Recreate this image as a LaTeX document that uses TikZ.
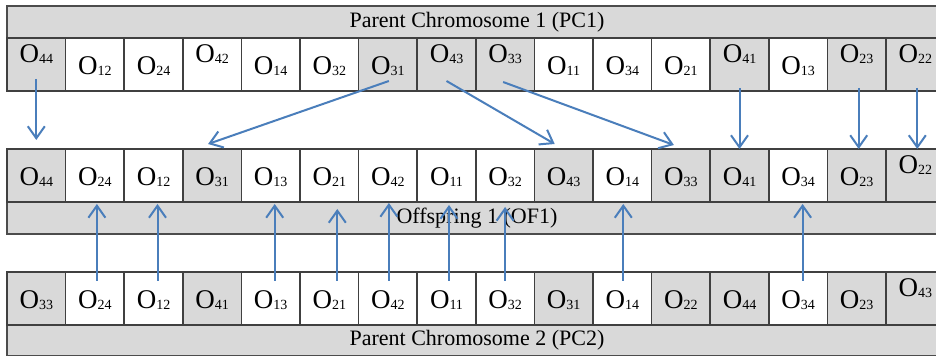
\documentclass[tikz,border=0pt]{standalone}
\usepackage{fontspec}
\setmainfont{Liberation Serif}
\usetikzlibrary{arrows.meta}
\definecolor{cellgrey}{HTML}{D9D9D9}
\definecolor{linkblue}{HTML}{4A7EBB}

\begin{document}
\begin{tikzpicture}[x=0.5pt,y=-0.5pt,
    cell/.style={draw=black!75, line width=0.75pt, minimum width=29.3pt, minimum height=26.5pt,
        inner sep=0pt, outer sep=0pt, anchor=north west},
    bar/.style={draw=black!70, fill=cellgrey, line width=0.75pt, minimum width=470pt, minimum height=16pt,
        inner sep=0pt, outer sep=0pt, anchor=north west, font=\fontsize{11}{13}\selectfont},
    link/.style={draw=linkblue, line width=1pt, -{Straight Barb[length=6pt,width=8.5pt]}}]
    % gene label: O with a small index, #2 moves it up or down
    \def\gn#1#2{\raisebox{#2}[0pt][0pt]{\fontsize{13.5}{15}\selectfont O\raisebox{-0.5pt}{\fontsize{7}{8}\selectfont#1}}}
    \def\lo{-5pt}\def\hi{1pt}
    \useasboundingbox (0,0) rectangle (936,356);
    \fill[white] (0,0) rectangle (936,356);
    \clip (0,0) rectangle (936,356);

    \node[bar] (pc1) at (7,6) {Parent Chromosome 1 (PC1)};
    \node[bar] (of1) at (7,202) {Offspring 1 (OF1)};
    \node[bar] (pc2) at (7,324) {Parent Chromosome 2 (PC2)};

    % the three rows of genes
    \foreach \t/\f/\r [count=\i] in {44/cellgrey/\hi, 12/white/\lo, 24/white/\lo, 42/white/\hi,
        14/white/\lo, 32/white/\lo, 31/cellgrey/\lo, 43/cellgrey/\hi, 33/cellgrey/\hi, 11/white/\lo,
        34/white/\lo, 21/white/\lo, 41/cellgrey/\hi, 13/white/\lo, 23/cellgrey/\hi, 22/cellgrey/\hi}
        \node[cell, fill=\f] (p1-\i) at ({7+58.6*(\i-1)},38) {\gn{\t}{\r}};
    \foreach \t/\f/\r [count=\i] in {44/cellgrey/\lo, 24/white/\lo, 12/white/\lo, 31/cellgrey/\lo,
        13/white/\lo, 21/white/\lo, 42/white/\lo, 11/white/\lo, 32/white/\lo, 43/cellgrey/\lo,
        14/white/\lo, 33/cellgrey/\lo, 41/cellgrey/\lo, 34/white/\lo, 23/cellgrey/\lo, 22/cellgrey/\hi}
        \node[cell, fill=\f] (of-\i) at ({7+58.6*(\i-1)},149) {\gn{\t}{\r}};
    \foreach \t/\f/\r [count=\i] in {33/cellgrey/\lo, 24/white/\lo, 12/white/\lo, 41/cellgrey/\lo,
        13/white/\lo, 21/white/\lo, 42/white/\lo, 11/white/\lo, 32/white/\lo, 31/cellgrey/\lo,
        14/white/\lo, 22/cellgrey/\lo, 44/cellgrey/\lo, 34/white/\lo, 23/cellgrey/\lo, 43/cellgrey/\hi}
        \node[cell, fill=\f] (p2-\i) at ({7+58.6*(\i-1)},272) {\gn{\t}{\r}};

    % genes taken from PC1
    \foreach \a/\b/\dx/\dy/\ex/\ey in {1/1/0/-12/0/-9, 7/4/1/-10/-4/-5, 8/10/0/-10/-9/-5,
        9/12/-2/-9/-7/-4, 13/13/0/-3/0/0, 15/15/2/-3/2/0, 16/16/2/-3/2/0}
        \draw[link] ([shift={(\dx,\dy)}]p1-\a.south) -- ([shift={(\ex,\ey)}]of-\b.north);
    % genes taken from PC2
    \foreach \c/\dx/\ey in {2/2/2, 3/4/2, 5/4/2, 6/8/7, 7/1/1, 8/2.5/3, 9/0/5, 11/1/2, 14/4.5/2}
        \draw[link] ([shift={(\dx,9)}]p2-\c.north) -- ([shift={(\dx,\ey)}]of-\c.south);
\end{tikzpicture}
\end{document}
